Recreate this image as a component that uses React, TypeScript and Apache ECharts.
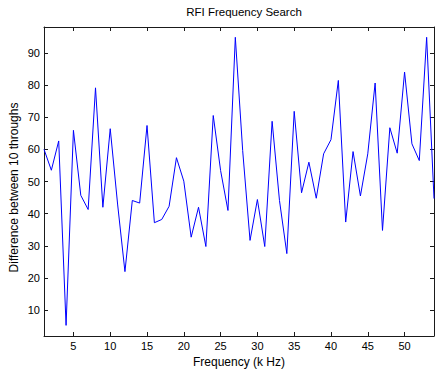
import React, { useEffect, useRef } from "react";
import * as echarts from "echarts";

const titleText = "RFI Frequency Search";
const xName = "Frequency (k Hz)";
const yName = "Difference between 10 throughs";
const xTicks = [5, 10, 15, 20, 25, 30, 35, 40, 45, 50];
const yTicks = [10, 20, 30, 40, 50, 60, 70, 80, 90];
const values = [
  60.0, 53.5, 62.6, 5.3, 65.9, 45.7, 41.3, 79.1, 42.0, 66.4,
  43.0, 22.0, 44.1, 43.3, 67.4, 37.2, 38.2, 42.3, 57.4, 50.1,
  32.7, 42.0, 29.8, 70.5, 53.4, 41.0, 94.8, 59.6, 31.7, 44.4,
  29.8, 68.7, 44.1, 27.6, 71.8, 46.5, 56.0, 44.8, 58.6, 63.0,
  81.4, 37.4, 59.3, 45.5, 58.6, 80.6, 34.8, 66.7, 58.8, 84.0,
  61.7, 56.5, 94.8, 44.7,
];
const freqs = values.map((_, i) => i + 1);

const FONT = "'Liberation Sans', Arial, sans-serif";
const AXIS_COLOR = "#1a1a1a";

export default function App() {
  const ref = useRef<HTMLDivElement>(null);
  useEffect(() => {
    document.body.style.margin = "0";
    const chart = echarts.init(ref.current!, null, { renderer: "svg" });
    const baseX = {
      type: "value" as const,
      min: 1,
      max: 54,
      splitLine: { show: false },
      axisLine: { show: true, lineStyle: { color: AXIS_COLOR, width: 1 } },
      axisTick: { show: true, inside: true, length: 4, customValues: xTicks, lineStyle: { color: AXIS_COLOR } },
    };
    const baseY = {
      type: "value" as const,
      min: 2,
      max: 98,
      splitLine: { show: false },
      axisLine: { show: true, lineStyle: { color: AXIS_COLOR, width: 1 } },
      axisTick: { show: true, inside: true, length: 4, customValues: yTicks, lineStyle: { color: AXIS_COLOR } },
    };
    chart.setOption({
      animation: false,
      backgroundColor: "#ffffff",
      title: {
        text: titleText,
        left: 239,
        textAlign: "center",
        top: 1,
        textStyle: { fontFamily: FONT, fontSize: 11.5, fontWeight: "normal", color: "#000" },
      },
      grid: { left: 44, right: 1, top: 27, bottom: 37, containLabel: false, outerBoundsMode: "none" },
      xAxis: [
        {
          ...baseX,
          position: "bottom",
          name: xName,
          nameLocation: "middle",
          nameGap: 17,
          nameTextStyle: { fontFamily: FONT, fontSize: 12, color: "#000" },
          axisLabel: { show: true, customValues: xTicks, margin: 4, fontFamily: FONT, fontSize: 11, color: "#000" },
        },
        { ...baseX, position: "top", axisLabel: { show: false } },
      ],
      yAxis: [
        {
          ...baseY,
          position: "left",
          name: yName,
          nameLocation: "middle",
          nameGap: 24,
          nameMoveOverlap: false,
          nameRotate: 90,
          nameTextStyle: { fontFamily: FONT, fontSize: 12, color: "#000", padding: [0, 12, 0, 0] },
          axisLabel: { show: true, customValues: yTicks, margin: 4, fontFamily: FONT, fontSize: 11, color: "#000" },
        },
        { ...baseY, position: "right", axisLabel: { show: false } },
      ],
      series: [
        {
          type: "line",
          data: freqs.map((f, i) => [f, values[i]]),
          showSymbol: false,
          symbol: "none",
          lineStyle: { color: "#0000ff", width: 1 },
          clip: true,
        },
      ],
    });
    return () => chart.dispose();
  }, []);
  return <div ref={ref} style={{ width: 435, height: 373 }} />;
}
